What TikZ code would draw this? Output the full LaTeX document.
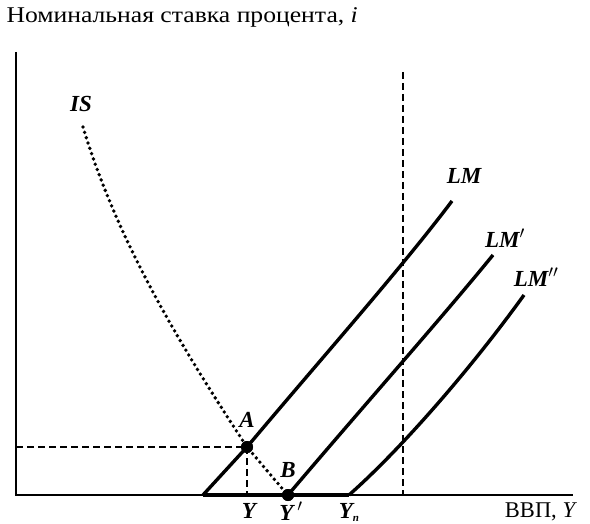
\documentclass[tikz,border=0pt]{standalone}
\usepackage{fontspec}
\setmainfont{Liberation Serif}
\begin{document}
\begin{tikzpicture}[x=1pt,y=-1pt,
  axisline/.style={line width=2pt},
  curve/.style={line width=3.4pt},
  guide/.style={line width=1.4pt,dash pattern=on 7pt off 4pt},
  iscurve/.style={line width=3.8pt,line cap=round,dash pattern=on 0pt off 5.6pt},
  dotpt/.style={circle,fill=black,inner sep=0pt,minimum size=12pt},
  lbl/.style={font=\fontsize{23}{27}\selectfont\bfseries\itshape},
  txt/.style={font=\fontsize{22.5}{26}\selectfont}]
\useasboundingbox (0,0) rectangle (590,524);
% coordinates
\coordinate (O) at (16,495);
\coordinate (Ytop) at (16,52);
\coordinate (Xend) at (573,495);
\coordinate (Vtop) at (403,72);
\coordinate (Vbot) at (403,495);
\coordinate (L0) at (203,495);
\coordinate (Ln) at (349,495);
\coordinate (Iax) at (16,447);
\coordinate (Yax) at (247,495);
\coordinate (IStop) at (83,127);
\node[dotpt] (A) at (247,447) {};
\node[dotpt] (B) at (288,495) {};
% axes
\draw[axisline] (Ytop) -- (O) -- (Xend);
% guides
\draw[guide] (Vtop) -- (Vbot);
\draw[guide] (Iax) -- (A.center);
\draw[guide] (A.center) -- (Yax);
% LM flat part
\draw[line width=3.4pt] (L0) -- (Ln);
% LM curves
\draw[curve] (L0) -- (A.center) .. controls (320,360) and (400,270) .. (452,201);
\draw[curve] (B.center) .. controls (360,410) and (440,320) .. (493,255);
\draw[curve] (Ln) .. controls (400,450) and (470,370) .. (524,295);
% IS curve
\draw[iscurve] (IStop) .. controls (120,250) and (190,360) .. (A.center) .. controls (265,468) and (278,484) .. (B.center);
\node[dotpt] at (A) {};
\node[dotpt] at (B) {};
% labels
\node[txt,anchor=west] (title) at (3,17) {\scalebox{1.14}[1]{Номинальная ставка процента, \textit{i}}};
\node[lbl] (IS) at (81,104) {IS};
\node[lbl] (LM) at (464,176) {LM};
\node[lbl] (LMp) at (505,238) {LM$'$};
\node[lbl] (LMpp) at (536,277) {LM$''$};
\node[lbl] (Alab) at (247,420) {A};
\node[lbl] (Blab) at (288,470) {B};
\node[lbl] (Y1) at (249,511) {Y};
\node[lbl] (Y2) at (291,511) {Y\,$'$};
\node[lbl] (Y3) at (346,511) {Y};
\node[font=\bfseries\itshape\fontsize{11}{12}\selectfont] (Y3n) at (356,519) {n};
\node[txt] (gdp) at (541,512) {ВВП, \textit{Y}};
\end{tikzpicture}
\end{document}
